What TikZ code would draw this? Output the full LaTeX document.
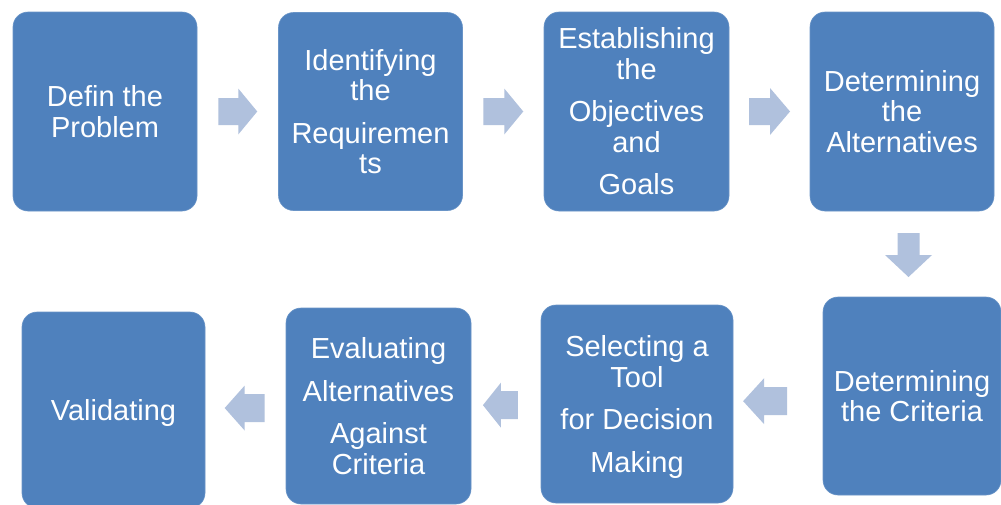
\documentclass[tikz,border=0pt]{standalone}
\usepackage{fontspec}
\setmainfont{Liberation Sans}
\usetikzlibrary{calc}
\definecolor{boxblue}{RGB}{79,129,189}
\definecolor{arrowblue}{RGB}{176,193,221}
% a line whose descenders do not count for centring
\newcommand{\nodepth}[1]{\raisebox{0pt}[\height][0pt]{#1}}
\tikzset{
  stepbox/.style={rectangle, rounded corners=15pt, fill=boxblue,
    draw=boxblue!85!white, line width=0.6pt, text=white, align=center,
    inner sep=0pt, font=\fontsize{29}{30.5}\selectfont},
  % block arrow pointing right: length, head width, shaft width, head length
  pics/blockarrow/.style n args={4}{code={
    \fill[arrowblue] (-#1/2,-#3/2) -- (#1/2-#4,-#3/2) -- (#1/2-#4,-#2/2)
      -- (#1/2,0) -- (#1/2-#4,#2/2) -- (#1/2-#4,#3/2) -- (-#1/2,#3/2) -- cycle;}}
}
\begin{document}
\begin{tikzpicture}[x=1pt,y=-1pt]
\useasboundingbox (0,0) rectangle (1001,504);
\fill[white] (0,0) rectangle (1001,504);

% top row
\node[stepbox, minimum width=184pt, minimum height=199pt] (b1) at (105,111.5)
  {Defin the\\Problem};
\node[stepbox, minimum width=184pt, minimum height=198pt] (b2) at (370.5,111.5)
  {Identifying\\the\\[12pt]Requiremen\\ts};
\node[stepbox, minimum width=185pt, minimum height=199pt] (b3) at (636.5,111.5)
  {Establishing\\the\\[12pt]Objectives\\and\\[12pt]Goals};
\node[stepbox, minimum width=184pt, minimum height=199pt] (b4) at (902,111.5)
  {Determining\\the\\Alternatives};

% bottom row
\node[stepbox, minimum width=178pt, minimum height=198pt] (b5) at (912,396)
  {Determining\\the Criteria};
\node[stepbox, minimum width=192pt, minimum height=198pt] (b6) at (637,404)
  {Selecting a\\Tool\\[12pt]for Decision\\[12pt]\nodepth{Making}};
\node[stepbox, minimum width=185pt, minimum height=196pt] (b7) at (378.5,406)
  {Evaluating\\[12pt]Alternatives\\[12pt]Against\\Criteria};
\node[stepbox, minimum width=183pt, minimum height=196pt] (b8) at (113.5,410)
  {\nodepth{Validating}};

% arrows between the steps
\pic at ($(b1.east)!0.5!(b2.west)$) {blockarrow={39}{46}{27}{19}};
\pic at ($(b2.east)!0.5!(b3.west)$) {blockarrow={40}{46}{27}{19}};
\pic at ($(b3.east)!0.5!(b4.west)$) {blockarrow={41}{47}{27}{20}};
\pic[rotate=-90] at ($(b4.south)!0.5!(b5.north)+(1.5,1)$) {blockarrow={44}{47}{22}{22}};
\pic[rotate=180] at ($(b6.east)!0.356!(b5.west)$) {blockarrow={44}{46}{28}{21}};
\pic[rotate=180] at ($(b7.east)!0.42!(b6.west)$) {blockarrow={35}{45}{28}{18}};
\pic[rotate=180] at ($(b8.east)!0.49!(b7.west)$) {blockarrow={40}{45}{28}{20}};
\end{tikzpicture}
\end{document}
